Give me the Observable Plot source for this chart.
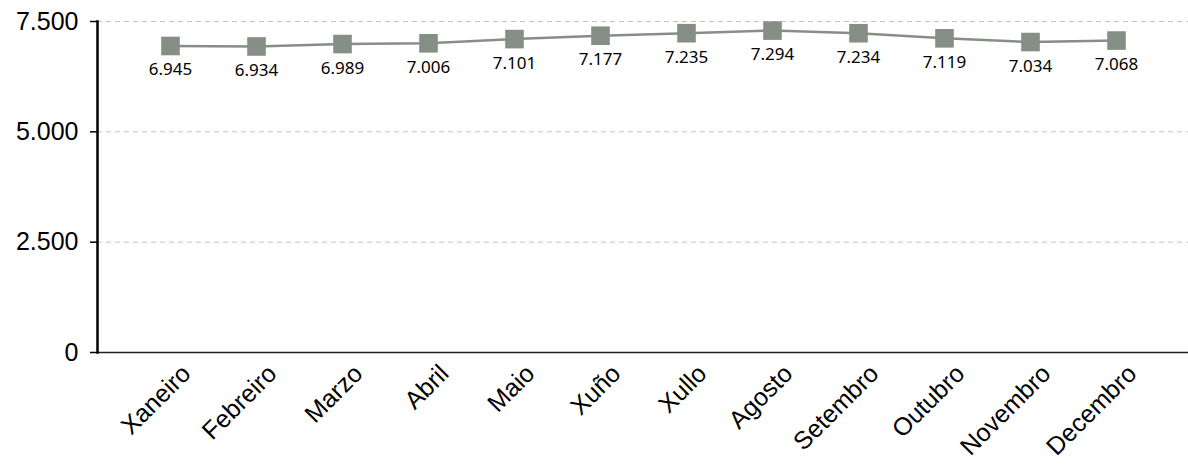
<!DOCTYPE html>
<html>
<head>
<meta charset="utf-8">
<script src="https://cdn.jsdelivr.net/npm/d3@7"></script>
<script src="https://cdn.jsdelivr.net/npm/@observablehq/plot@0.6"></script>
<style>
  html, body { margin: 0; padding: 0; background: #fff; }
  #chart svg { display: block; }
</style>
</head>
<body>
<div id="chart"></div>
<script>
const months = ["Xaneiro","Febreiro","Marzo","Abril","Maio","Xuño","Xullo","Agosto","Setembro","Outubro","Novembro","Decembro"];
const values = [6945, 6934, 6989, 7006, 7101, 7177, 7235, 7294, 7234, 7119, 7034, 7068];
const yTicks = [0, 2500, 5000, 7500];

const data = months.map((m, i) => ({month: m, value: values[i]}));
const fmt = v => d3.format(",")(v).replace(/,/g, ".");
const color = "#858f85";

const chart = Plot.plot({
  width: 1188,
  height: 466,
  marginLeft: 97,
  marginRight: 0,
  marginTop: 21,
  marginBottom: 114,
  style: {fontFamily: "Liberation Sans, Arial, sans-serif", background: "#fff", color: "#000"},
  x: {type: "point", domain: months, padding: 0.84},
  y: {domain: [0, 7500]},
  marks: [
    Plot.ruleY(yTicks.filter(d => d > 0), {stroke: "#c4c4c4", strokeDasharray: "5,4", strokeWidth: 1}),
    Plot.ruleY([0], {stroke: "#222", strokeWidth: 1.5}),
    Plot.frame({anchor: "left", stroke: "#000", strokeWidth: 2.5}),
    Plot.axisY({ticks: yTicks, tickFormat: fmt, tickSize: 7, tickPadding: 12, fontSize: 25, label: null, stroke: "#000", strokeWidth: 1.5}),
    Plot.axisX({tickSize: 0, tickRotate: -45, textAnchor: "end", fontSize: 25, tickPadding: 16, dx: 16, dy: 1, label: null}),
    Plot.line(data, {x: "month", y: "value", stroke: color, strokeWidth: 2.5}),
    Plot.dot(data, {x: "month", y: "value", symbol: "square", r: 10.5, fill: color, stroke: "none"}),
    Plot.text(data, {x: "month", y: "value", text: d => fmt(d.value), dy: 24, fontSize: 17, fill: "#000", fontFamily: "Noto Sans, sans-serif"})
  ]
});
document.getElementById("chart").appendChild(chart);
</script>
</body>
</html>
